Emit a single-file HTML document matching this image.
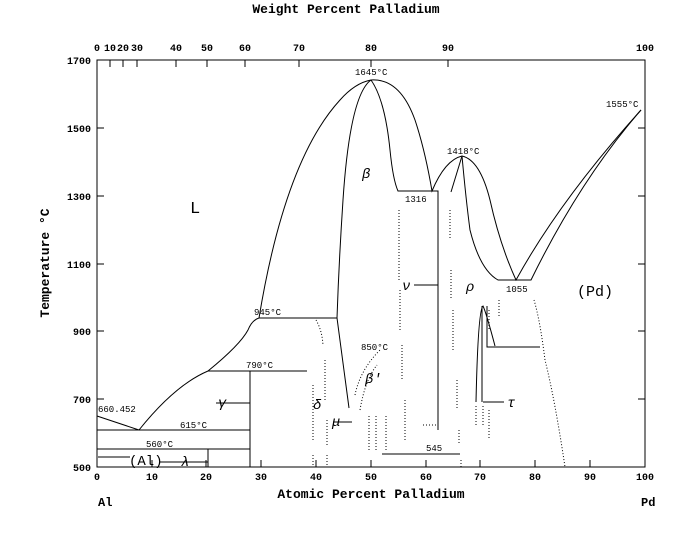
<!DOCTYPE html>
<html><head><style>
html,body{margin:0;padding:0;background:#fff;}
svg{display:block;}
text{font-family:"Liberation Mono",monospace;fill:#000;}
</style></head><body>
<svg width="691" height="544" viewBox="0 0 691 544" xmlns="http://www.w3.org/2000/svg">
<g fill="none" stroke="#000" stroke-width="1">
<rect x="97" y="60" width="548" height="407"/>
<path d="M97 467v-7M152 467v-7M206 467v-7M261 467v-7M316 467v-7M371 467v-7M426 467v-7M480 467v-7M535 467v-7M590 467v-7M645 467v-7"/>
<path d="M97 60v7M110 60v7M123 60v7M137 60v7M176 60v7M207 60v7M245 60v7M299 60v7M371 60v7M448 60v7M645 60v7"/>
<path d="M97 60h7M97 128h7M97 196h7M97 264h7M97 331h7M97 399h7M645 60h-7M645 128h-7M645 196h-7M645 264h-7M645 331h-7M645 399h-7"/>
<path d="M97 416 L139 430 Q175 385 208 371 Q240 345 248 330 Q252 320 259 318 Q285 160 340 100 Q355 83 371 80 Q400 78 415 120 Q425 150 432 191 Q445 160 462 156 Q480 160 490 200 Q500 245 516 280 Q560 200 641 110"/>
<path d="M371 80 Q350 95 343 200 Q339 260 337 318 L349 408"/>
<path d="M371 80 Q385 100 390 150 Q393 180 398 191 L438 191 L438 430"/>
<path d="M462 156 Q466 200 470 230 Q480 270 498 280 L531 280 Q580 180 641 110"/>
<path d="M451 192 L462 156"/>
<path d="M259 318 H337 M208 371 H307 M97 430 H250 M97 449 H250 M250 371 V467 M208 449 V467 M382 454 H460"/>
<path d="M476 402 Q478 310 483 306 Q486 312 495 346 M482 402 V306 M487 306 V347 H540"/>
</g>
<g fill="none" stroke="#000" stroke-width="1" stroke-dasharray="1,2">
<path d="M313 385 V440 M316 320 Q322 330 323 345 M325 360 V400 M327 420 V447 M313 455 V467 M327 455 V467"/>
<path d="M355 395 Q360 370 380 350 M360 410 Q365 380 377 365 M369 450 V415 M376 450 V415 M386 450 V415 M399 210 V280 M400 290 V330 M402 345 V380 M405 400 V440 M423 425 H436 M450 210 V240 M451 270 V300 M453 310 V350 M457 380 V410 M459 430 V445 M461 460 V467"/>
<path d="M476 406 V425 M483 406 V425 M489 410 V440 M489 310 V330 M499 300 V318 M534 300 Q540 320 545 360 Q555 400 565 467"/>
</g>
<path d="M98 457 H130 M160 462 H208 M216 403 H250 M414 285 H438 M483 402 H504 M333 422 H352" stroke="#000" fill="none"/>
<g font-size="11" font-weight="bold">
<text x="346" y="13" text-anchor="middle" font-size="13">Weight Percent Palladium</text>
<text x="371" y="498" text-anchor="middle" font-size="13">Atomic Percent Palladium</text>
<text transform="translate(49,263) rotate(-90)" text-anchor="middle" font-size="13">Temperature °C</text>
<g text-anchor="middle" font-size="10">
<text x="97" y="51">0</text><text x="110" y="51">10</text><text x="123" y="51">20</text><text x="137" y="51">30</text><text x="176" y="51">40</text><text x="207" y="51">50</text><text x="245" y="51">60</text><text x="299" y="51">70</text><text x="371" y="51">80</text><text x="448" y="51">90</text><text x="645" y="51">100</text>
<text x="97" y="480">0</text><text x="152" y="480">10</text><text x="206" y="480">20</text><text x="261" y="480">30</text><text x="316" y="480">40</text><text x="371" y="480">50</text><text x="426" y="480">60</text><text x="480" y="480">70</text><text x="535" y="480">80</text><text x="590" y="480">90</text><text x="645" y="480">100</text>
</g>
<g text-anchor="end" font-size="10">
<text x="91" y="64">1700</text><text x="91" y="132">1500</text><text x="91" y="200">1300</text><text x="91" y="268">1100</text><text x="91" y="335">900</text><text x="91" y="403">700</text><text x="91" y="471">500</text>
</g>
<text x="98" y="506" font-size="12">Al</text><text x="641" y="506" font-size="12">Pd</text>
<g font-size="9" font-weight="normal">
<text x="355" y="75">1645°C</text><text x="447" y="154">1418°C</text><text x="606" y="107">1555°C</text>
<text x="405" y="202">1316</text><text x="506" y="292">1055</text><text x="254" y="315">945°C</text>
<text x="246" y="368">790°C</text><text x="98" y="412">660.452</text><text x="180" y="428">615°C</text>
<text x="146" y="447">560°C</text><text x="361" y="350">850°C</text><text x="426" y="451">545</text>
</g>
<text x="190" y="213" font-family="Liberation Serif,serif" font-weight="normal" font-size="17">L</text>
<text x="577" y="296" font-family="Liberation Serif,serif" font-weight="normal" font-size="15">(Pd)</text>
<text x="129" y="465" font-family="Liberation Serif,serif" font-weight="normal" font-size="14">(Al)</text>
<g font-family="Liberation Serif,serif" font-style="italic" font-weight="normal" font-size="14">
<text x="362" y="178">β</text><text x="365" y="383">β′</text><text x="313" y="409">δ</text>
<text x="218" y="407">γ</text><text x="181" y="466">λ</text><text x="332" y="426">μ</text>
<text x="402" y="290">ν</text><text x="466" y="291">ρ</text><text x="507" y="407">τ</text>
</g>
</g>
</svg>
</body></html>
